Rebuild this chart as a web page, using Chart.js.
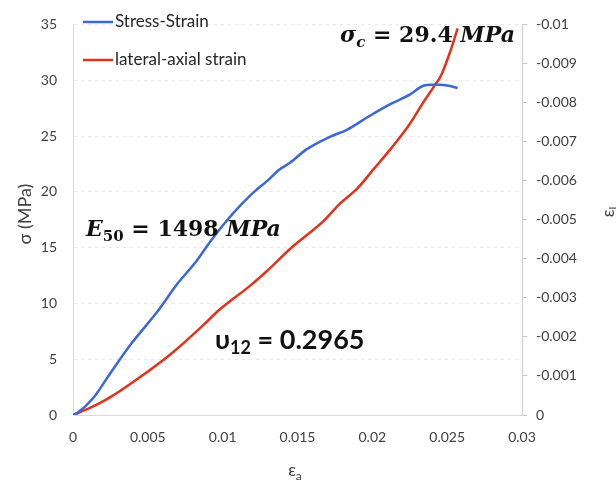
<!DOCTYPE html>
<html>
<head>
<meta charset="utf-8">
<script src="https://cdn.jsdelivr.net/npm/chart.js@4.4.0/dist/chart.umd.min.js"></script>
<style>
  html, body { margin: 0; padding: 0; background: #fff; }
  #wrap { width: 616px; height: 484px; }
</style>
</head>
<body>
<div id="wrap"><canvas id="chart" width="616" height="484"></canvas></div>
<script>
// Stress-strain curve (axial strain vs stress, MPa)
const axialStrain = [0, 0.00027, 0.00134, 0.00247, 0.0039, 0.0056, 0.007, 0.0082, 0.0092, 0.0102,
  0.0112, 0.0121, 0.013, 0.0138, 0.0145, 0.0156, 0.0172, 0.0183, 0.0197, 0.0212,
  0.0225, 0.0234, 0.024, 0.0245, 0.0251, 0.0257];
const stress = [0, 0.17, 1.5, 3.7, 6.4, 9.2, 11.8, 13.7, 15.6, 17.3,
  18.8, 20.0, 21.0, 22.0, 22.6, 23.8, 24.95, 25.55, 26.7, 27.85,
  28.7, 29.5, 29.6, 29.6, 29.5, 29.3];

// lateral-axial strain curve (axial strain vs lateral strain)
const latAxialStrain = [0, 0.00114, 0.00247, 0.0043, 0.0065, 0.0087, 0.0098, 0.0118, 0.013, 0.0145,
  0.0156, 0.0167, 0.0178, 0.019, 0.0201, 0.0212, 0.0225, 0.0234, 0.0241, 0.0246,
  0.0252, 0.0257];
const lateralStrain = [0, -0.00018, -0.00045, -0.00092, -0.00155, -0.0023, -0.0027, -0.0033, -0.0037, -0.00425,
  -0.0046, -0.00495, -0.0054, -0.0058, -0.0063, -0.0068, -0.00745, -0.008, -0.0084, -0.0087,
  -0.0093, -0.0099];

// tick values
const xTicks = [0, 0.005, 0.01, 0.015, 0.02, 0.025, 0.03];
const yTicks = [0, 5, 10, 15, 20, 25, 30, 35];
const y2Ticks = [0, -0.001, -0.002, -0.003, -0.004, -0.005, -0.006, -0.007, -0.008, -0.009, -0.01];

const BLUE = '#3a68d6';
const RED = '#e2321c';
const TICK_COLOR = '#404040';
const TICK_FONT = { family: 'Lato', size: 14 };

const fmt = v => {
  const s = String(parseFloat(Number(v).toFixed(4)));
  return s === '-0' ? '0' : s;
};

// draw a row of text runs (for subscripts / mixed fonts)
function drawRuns(ctx, x, y, runs) {
  let cx = x;
  runs.forEach(r => {
    ctx.font = r.font;
    ctx.fillText(r.text, cx, y + (r.dy || 0));
    cx += ctx.measureText(r.text).width;
  });
  return cx - x;
}
function runsWidth(ctx, runs) {
  let w = 0;
  runs.forEach(r => { ctx.font = r.font; w += ctx.measureText(r.text).width; });
  return w;
}

const textPlugin = {
  id: 'texts',
  afterDraw(chart) {
    const ctx = chart.ctx;
    ctx.save();
    ctx.textAlign = 'left';

    // legend
    ctx.lineWidth = 2.5;
    [[BLUE, 'Stress-Strain', 22], [RED, 'lateral-axial strain', 60]].forEach(([c, label, y]) => {
      ctx.strokeStyle = c;
      ctx.beginPath();
      ctx.moveTo(83, y);
      ctx.lineTo(113, y);
      ctx.stroke();
      ctx.fillStyle = '#262626';
      ctx.font = '17px Lato';
      ctx.textBaseline = 'middle';
      ctx.fillText(label, 115, y);
    });
    ctx.textBaseline = 'alphabetic';

    // axis titles
    ctx.fillStyle = TICK_COLOR;
    ctx.save();
    ctx.translate(25, 214);
    ctx.rotate(-Math.PI / 2);
    ctx.font = '18px Lato';
    ctx.textAlign = 'center';
    ctx.textBaseline = 'middle';
    ctx.fillText('σ (MPa)', 0, 0);
    ctx.restore();

    const eaRuns = [{ text: 'ε', font: '17px Lato' }, { text: 'a', font: '12px Lato', dy: 4 }];
    drawRuns(ctx, 295 - runsWidth(ctx, eaRuns) / 2, 476, eaRuns);

    ctx.save();
    ctx.translate(609, 212);
    ctx.rotate(-Math.PI / 2);
    const elRuns = [{ text: 'ε', font: '17px Lato' }, { text: 'l', font: '12px Lato', dy: 4 }];
    drawRuns(ctx, -runsWidth(ctx, elRuns) / 2, 5, elRuns);
    ctx.restore();

    // annotations
    ctx.fillStyle = '#111';
    const bi = '600 italic 22px "DejaVu Serif"';
    const b = '600 22px "DejaVu Serif"';
    drawRuns(ctx, 340, 42, [
      { text: 'σ', font: bi }, { text: 'c', font: '600 italic 15px "DejaVu Serif"', dy: 5 },
      { text: ' = 29.4 ', font: b }, { text: 'MPa', font: bi }
    ]);
    drawRuns(ctx, 86, 236, [
      { text: 'E', font: bi }, { text: '50', font: '600 15px "DejaVu Serif"', dy: 5 },
      { text: ' = 1498 ', font: b }, { text: 'MPa', font: bi }
    ]);
    drawRuns(ctx, 215, 349, [
      { text: 'υ', font: 'bold 27px Lato' }, { text: '12', font: 'bold 18px Lato', dy: 5 },
      { text: ' = 0.2965', font: 'bold 27px Lato' }
    ]);
    ctx.restore();
  }
};

new Chart(document.getElementById('chart'), {
  type: 'line',
  data: {
    datasets: [
      {
        label: 'Stress-Strain',
        data: axialStrain.map((x, i) => ({ x, y: stress[i] })),
        borderColor: BLUE,
        borderWidth: 2.5,
        pointRadius: 0,
        cubicInterpolationMode: 'monotone',
        yAxisID: 'y'
      },
      {
        label: 'lateral-axial strain',
        data: latAxialStrain.map((x, i) => ({ x, y: lateralStrain[i] })),
        borderColor: RED,
        borderWidth: 2.5,
        pointRadius: 0,
        cubicInterpolationMode: 'monotone',
        yAxisID: 'y2'
      }
    ]
  },
  options: {
    responsive: false,
    animation: false,
    layout: { padding: { top: 15, left: 0, right: 0, bottom: 0 } },
    plugins: { legend: { display: false }, tooltip: { enabled: false } },
    scales: {
      x: {
        type: 'linear',
        min: 0,
        max: 0.03,
        afterBuildTicks: s => { s.ticks = xTicks.map(v => ({ value: v })); },
        afterFit: s => { s.height = 69; },
        grid: { display: true, drawOnChartArea: false, drawTicks: false },
        border: { display: true, color: '#d9d9d9' },
        ticks: { callback: fmt, color: TICK_COLOR, font: TICK_FONT, padding: 14, maxRotation: 0 }
      },
      y: {
        position: 'left',
        min: 0,
        max: 35,
        afterBuildTicks: s => { s.ticks = yTicks.map(v => ({ value: v })); },
        afterFit: s => { s.width = 73; },
        grid: { color: 'rgba(0,0,0,0.09)', drawTicks: false },
        border: { display: true, color: '#d9d9d9', dash: [3, 4] },
        ticks: { color: TICK_COLOR, font: TICK_FONT, padding: 16 }
      },
      y2: {
        position: 'right',
        min: -0.01,
        max: 0,
        reverse: true,
        afterBuildTicks: s => { s.ticks = y2Ticks.map(v => ({ value: v })); },
        afterFit: s => { s.width = 94; },
        grid: { drawOnChartArea: false, drawTicks: true, tickLength: 5, color: '#c8c8c8' },
        border: { display: true, color: '#d0d0d0' },
        ticks: { callback: fmt, color: TICK_COLOR, font: TICK_FONT, padding: 9 }
      }
    }
  },
  plugins: [textPlugin]
});
</script>
</body>
</html>
